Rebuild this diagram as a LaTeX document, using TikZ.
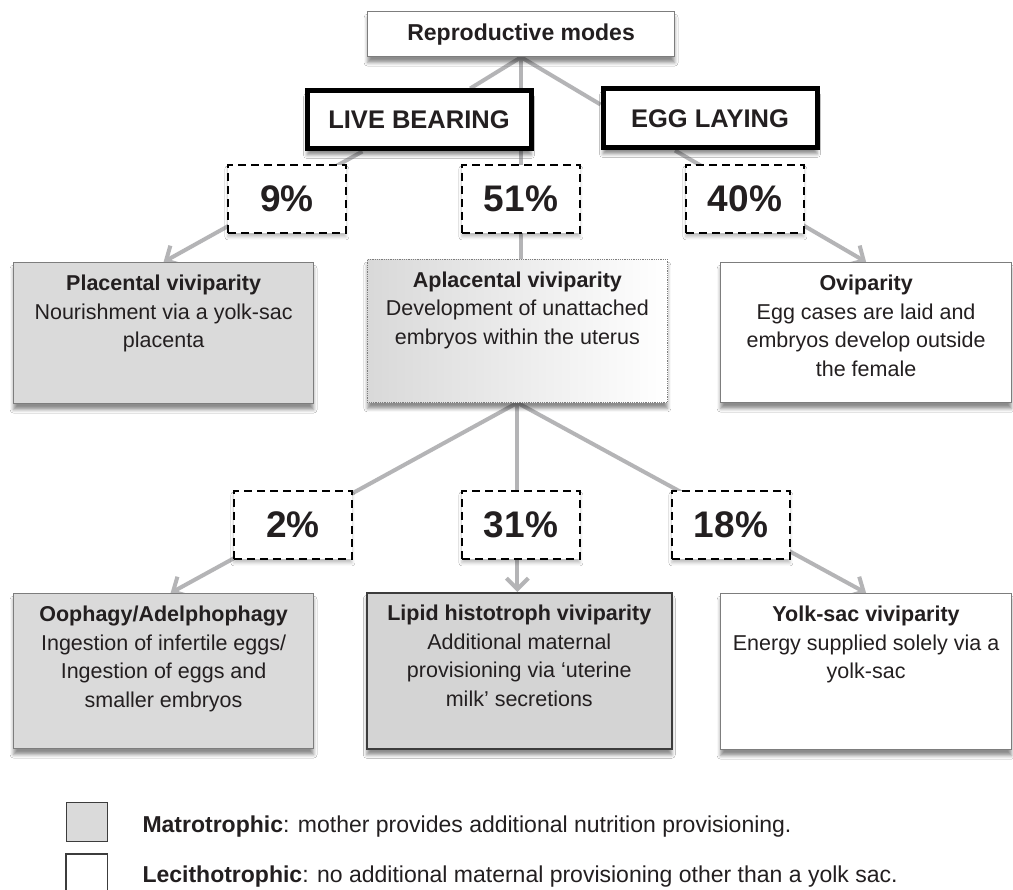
\documentclass[tikz,border=0pt]{standalone}
\usepackage{fontspec}
\setmainfont{Liberation Sans}
\usetikzlibrary{arrows.meta,calc,backgrounds,shadows.blur}
\definecolor{txt}{RGB}{35,31,32}
\definecolor{linegray}{RGB}{180,180,182}
\definecolor{boxgray}{RGB}{125,125,125}
\definecolor{darkline}{RGB}{60,60,60}
\definecolor{fillgray}{RGB}{218,218,218}
\definecolor{fillgray2}{RGB}{212,212,212}
\newcommand{\btext}[3]{\parbox[c][#1][t]{#2}{\centering\vspace*{12.5pt}#3}}
\tikzset{
 base/.style={rectangle, inner sep=0pt, anchor=north west, text=txt, font=\fontsize{21.5}{28.5}\selectfont},
 shd/.style={blur shadow={shadow xshift=0pt, shadow yshift=-6pt, shadow blur radius=3.5pt, shadow opacity=45}},
 lshd/.style={blur shadow={shadow xshift=0pt, shadow yshift=-4pt, shadow blur radius=3pt, shadow opacity=25}},
 whitebox/.style={base, draw=boxgray, line width=1.2pt, fill=white, shd},
 graybox/.style={base, draw=boxgray, line width=1.2pt, fill=fillgray, shd},
 darkbox/.style={base, draw=darkline, line width=1.6pt, fill=fillgray2, shd},
 gradbox/.style={base, draw=boxgray, densely dotted, line width=0.8pt, left color=black!15, right color=white, shd},
 topbox/.style={base, draw=boxgray, line width=1.2pt, fill=white, shd, font=\bfseries\fontsize{23}{26}\selectfont, minimum width=307pt, minimum height=45pt},
 modebox/.style={base, draw=black, line width=5pt, fill=white, shd, font=\bfseries\fontsize{25.5}{30}\selectfont},
 pctbox/.style={base, draw=black, dash pattern=on 8pt off 5pt, line width=1.8pt, fill=white, lshd, font=\bfseries\fontsize{37}{40}\selectfont, minimum width=118pt, minimum height=68pt},
 conn/.style={draw=linegray, line width=4pt},
 arr/.style={conn, -{Straight Barb[length=11pt,width=22pt]}},
 legsq/.style={rectangle, inner sep=0pt, anchor=north west, minimum width=41pt, minimum height=39pt},
 legtext/.style={anchor=base west, text=txt, font=\fontsize{23}{26}\selectfont},
}
\begin{document}
\begin{tikzpicture}[x=1pt,y=-1pt]
\useasboundingbox (0,0) rectangle (1013,890);

% top levels
\node[topbox] (top) at (367,11) {Reproductive modes};
\node[modebox, minimum width=224pt, minimum height=58pt] (lb) at (304.5,88.5) {LIVE BEARING};
\node[modebox, minimum width=214pt, minimum height=59pt] (eg) at (600.5,86.5) {EGG LAYING};

% percentages, first row
\node[pctbox] (p9) at (227,164) {9\%};
\node[pctbox] (p51) at (461,164) {51\%};
\node[pctbox] (p40) at (685,164) {40\%};

% middle row
\node[graybox, minimum width=300pt, minimum height=141pt] (pl) at (13,262)
 {\btext{141pt}{300pt}{\textbf{Placental viviparity}\\Nourishment via a yolk-sac\\placenta}};
\node[gradbox, minimum width=300pt, minimum height=143pt] (apl) at (367,259)
 {\btext{143pt}{300pt}{\textbf{Aplacental viviparity}\\Development of unattached\\embryos within the uterus}};
\node[whitebox, minimum width=291pt, minimum height=140pt] (ov) at (720,262)
 {\btext{140pt}{291pt}{\textbf{Oviparity}\\Egg cases are laid and\\embryos develop outside\\the female}};

% percentages, second row
\node[pctbox] (p2) at (233,490) {2\%};
\node[pctbox] (p31) at (461,490) {31\%};
\node[pctbox] (p18) at (671,490) {18\%};

% bottom row
\node[graybox, minimum width=300pt, minimum height=155pt] (oo) at (13,593)
 {\btext{155pt}{300pt}{\textbf{Oophagy/Adelphophagy}\\Ingestion of infertile eggs/\\Ingestion of eggs and\\smaller embryos}};
\node[darkbox, minimum width=305pt, minimum height=156pt] (li) at (366,592)
 {\btext{156pt}{305pt}{\textbf{Lipid histotroph viviparity}\\Additional maternal\\provisioning via `uterine\\milk' secretions}};
\node[whitebox, minimum width=291pt, minimum height=156pt] (yo) at (720,593)
 {\btext{156pt}{291pt}{\textbf{Yolk-sac viviparity}\\Energy supplied solely via a\\yolk-sac}};

% legend
\node[legsq, fill=fillgray, draw=darkline, line width=1.2pt] (lg) at (66,802) {};
\node[legsq, fill=white, minimum height=37pt] (lw) at (66,854) {};
\draw[darkline, line width=1.2pt] (lw.south west) -- (lw.north west) -- (lw.north east) -- (lw.south east);
\node[legtext] (lt1) at (139,832) {\textbf{Matrotrophic}: mother provides additional nutrition provisioning.};
\node[legtext] (lt2) at (139,882) {\textbf{Lecithotrophic}: no additional maternal provisioning other than a yolk sac.};

% connectors
\begin{pgfonlayer}{background}
 \fill[white] (0,0) rectangle (1013,890);
 \draw[conn] (top.south) -- (lb);
 \draw[conn] (top.south) -- ([yshift=14pt]eg.west);
 \draw[conn] (top.south) -- (top.south |- apl.north);
 \draw[arr] (lb) -- (pl.north);
 \draw[arr] ($(eg.south west)!0.34!(eg.south east)$) -- (ov.north);
 \draw[arr] (apl.south) -- ([xshift=7pt]oo.north);
 \draw[arr] (apl.south) -- (apl.south |- li.north);
 \draw[arr] (apl.south) -- (yo.north);
\end{pgfonlayer}
\end{tikzpicture}
\end{document}
